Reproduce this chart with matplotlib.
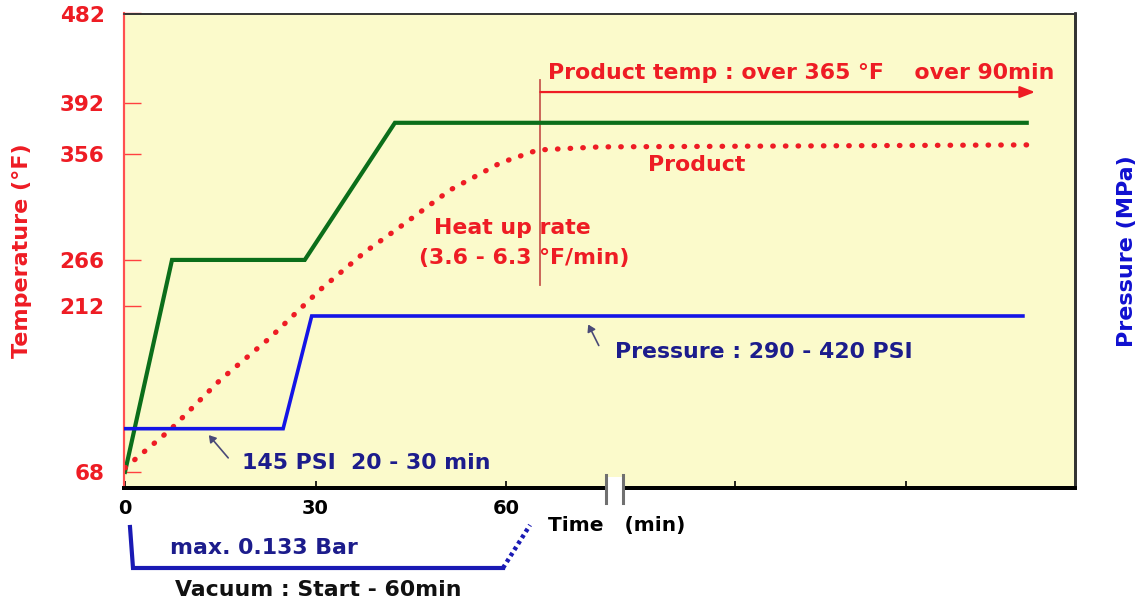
import numpy as np
import matplotlib
matplotlib.use('Agg')
import matplotlib.pyplot as plt
from matplotlib.lines import Line2D
from matplotlib.patches import Rectangle, FancyArrowPatch

# ---------------- data ----------------
oven_t = [0, 7.4, 28.3, 42.5, 142]
oven_T = [68, 266, 266, 378, 378]
press_t = [0, 24.9, 29.4, 141.4]
press_P = [1.0, 1.0, 2.9, 2.9]
prod_t = [0, 7.1, 15.0, 22.8, 30.7, 37.8, 43.3, 51.2, 59.1, 65.0, 74.8, 142]
prod_T = [71.5, 104.4, 147.8, 184.2, 230.8, 272.8, 294, 325.4, 348.4, 358.8, 361, 362.4]
temp_ticks = [68, 212, 266, 356, 392, 482]
temp_labels = ['68', '212', '266', '356', '392', '482']
time_ticks = [0, 30, 60, 96, 123]
time_labels = ['0', '30', '60', '', '']
hold_start = 65.4      # product reaches 365F
hold_end = 143.3

# schematic (non-linear) temperature axis knots
knot_vals = [0, 68, 212, 266, 356, 392, 482, 600]
knot_pos = [-550.4, -472, -306, -260, -154, -103, -13.5, 103.8]

W, H = 1139, 604
plt.rcParams['font.family'] = ['DejaVu Sans']
plt.rcParams['font.weight'] = 'bold'

RED = '#ee1c24'
NAVY = '#1c1c8c'
GREEN = '#0b6e1a'
BLUE = '#1414e6'
FS = 15.8

fig = plt.figure(figsize=(W / 100, H / 100), dpi=100)
def F(x, y):
    return (x / W, 1 - y / H)

ax = fig.add_axes([124 / W, 1 - 488 / H, (1075 - 124) / W, (488 - 13.5) / H])
ax.set_facecolor('#fbfacb')

fwd = lambda v: np.interp(v, knot_vals, knot_pos)
inv = lambda p: np.interp(p, knot_pos, knot_vals)
ax.set_yscale('function', functions=(fwd, inv))
ax.set_ylim(54, 482)
ax.set_xlim(-0.16, 149.6)

# lines
ax.plot(oven_t, oven_T, color=GREEN, lw=3.0, solid_joinstyle='miter', zorder=3)
ax.plot(prod_t, prod_T, color=RED, lw=3.8, linestyle=(0, (0.1, 2.3)),
        dash_capstyle='round', zorder=4)

ax2 = ax.twinx()
ax2.set_ylim(0, 8)
ax2.plot(press_t, press_P, color=BLUE, lw=2.6, solid_joinstyle='miter', zorder=3)
ax2.set_yticks([])
ax2.set_ylabel('Pressure (MPa)', color='#1010d0', fontsize=16, fontweight='bold', labelpad=30)

# hold line and arrow
ax.plot([hold_start, hold_start], [237, 415], color='#c85a50', lw=1.3, zorder=2)
ax.annotate('', xy=(hold_end, 403), xytext=(hold_start, 403),
            arrowprops=dict(arrowstyle='-|>,head_length=0.9,head_width=0.35',
                            color=RED, lw=1.6, shrinkA=0, shrinkB=0))

# axes styling
ax.set_yticks(temp_ticks)
ax.set_yticklabels(temp_labels)
ax.set_xticks(time_ticks)
ax.set_xticklabels(time_labels)
ax.tick_params(axis='y', direction='in', length=12, width=1.0, color='#ff4040',
               labelcolor=RED, labelsize=15.5, pad=14)
ax.tick_params(axis='x', direction='in', length=5, width=1.2, color='black',
               labelcolor='black', labelsize=14, pad=8)
for lab in ax.get_xticklabels() + ax.get_yticklabels():
    lab.set_fontweight('bold')
for a in (ax, ax2):
    a.spines['left'].set_color('#ff5050')
    a.spines['left'].set_linewidth(1.5)
    a.spines['bottom'].set_color('black')
    a.spines['bottom'].set_linewidth(2.8)
    a.spines['top'].set_color('#333333')
    a.spines['top'].set_linewidth(1.2)
    a.spines['right'].set_color('#333333')
    a.spines['right'].set_linewidth(2.0)
ax.set_ylabel('Temperature (°F)', color=RED, fontsize=16, fontweight='bold', labelpad=20)

# axis break marks
fig.patches.append(Rectangle(F(607, 497), 15 / W, 20 / H, transform=fig.transFigure,
                             facecolor='white', edgecolor='none', zorder=10))
for bx in (606, 623):
    fig.lines.append(Line2D([bx / W, bx / W], [1 - 475 / H, 1 - 503 / H],
                            transform=fig.transFigure, color='#707070', lw=2.2, zorder=11))

# annotations
fig.text(*F(548, 73), 'Product temp : over 365 °F    over 90min', color=RED,
         fontsize=FS, fontweight='bold', va='center', ha='left')
fig.text(*F(697, 165), 'Product', color=RED, fontsize=FS, fontweight='bold',
         va='center', ha='center')
fig.text(*F(512, 228), 'Heat up rate', color=RED, fontsize=FS, fontweight='bold',
         va='center', ha='center')
fig.text(*F(524, 258), '(3.6 - 6.3 °F/min)', color=RED, fontsize=FS, fontweight='bold',
         va='center', ha='center')
fig.text(*F(615, 352), 'Pressure : 290 - 420 PSI', color=NAVY, fontsize=FS,
         fontweight='bold', va='center', ha='left')
fig.text(*F(242, 463), '145 PSI  20 - 30 min', color=NAVY, fontsize=FS,
         fontweight='bold', va='center', ha='left')
fig.text(*F(548, 525), 'Time   (min)', color='black', fontsize=14.5,
         fontweight='bold', va='center', ha='left')
fig.text(*F(170, 548), 'max. 0.133 Bar', color=NAVY, fontsize=FS,
         fontweight='bold', va='center', ha='left')
fig.text(*F(175, 590), 'Vacuum : Start - 60min', color='#111111', fontsize=FS,
         fontweight='bold', va='center', ha='left')

# small pointer arrows
for tail, head in (((600, 348), (587, 322)), ((230, 460), (207, 433))):
    fig.patches.append(FancyArrowPatch(
        F(*tail), F(*head), transform=fig.transFigure,
        arrowstyle='-|>,head_length=4,head_width=2.5',
        color='#4a4a78', lw=1.2, zorder=12))

# vacuum bracket
vx = [130, 133, 503]
vy = [527, 568, 568]
fig.lines.append(Line2D([x / W for x in vx], [1 - y / H for y in vy],
                        transform=fig.transFigure, color='#1a1ab4', lw=3.0,
                        solid_joinstyle='miter', zorder=5))
fig.lines.append(Line2D([503 / W, 530 / W], [1 - 568 / H, 1 - 525 / H],
                        transform=fig.transFigure, color='#1a1ab4', lw=3.2,
                        linestyle=(0, (0.8, 0.8)), zorder=5))

fig.savefig('out.png', dpi=100)
